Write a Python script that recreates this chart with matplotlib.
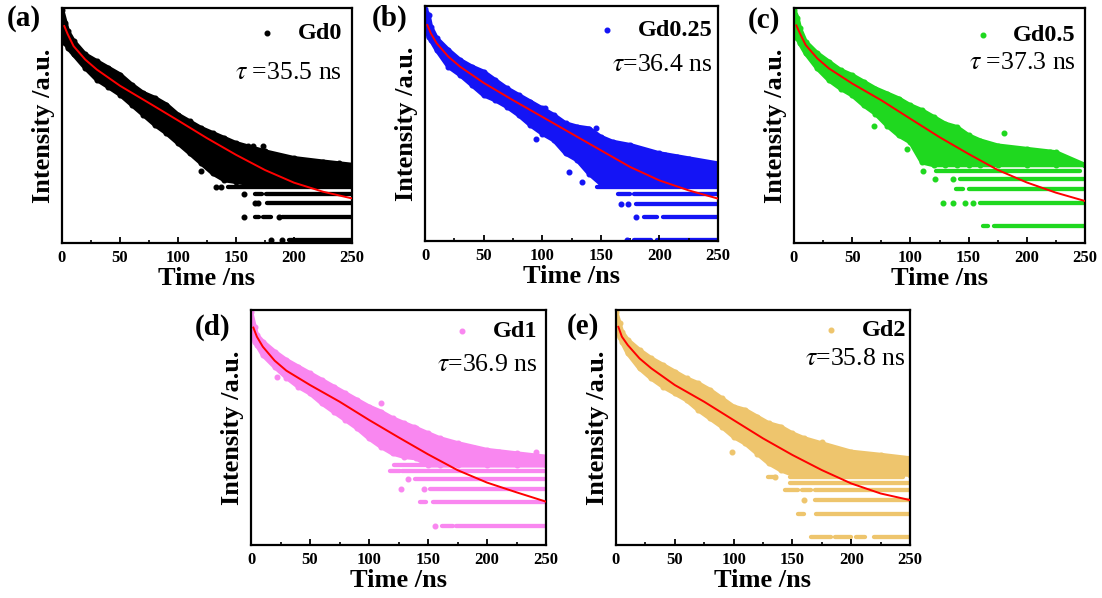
import matplotlib
matplotlib.use("Agg")
import matplotlib.pyplot as plt
from matplotlib.ticker import MultipleLocator, NullLocator

plt.rcParams["font.family"] = "Liberation Serif"
plt.rcParams["mathtext.fontset"] = "stix"

band_time = [0, 3, 5, 10, 20, 30, 40, 50, 60, 70, 80, 90, 100, 110, 120, 130,
             140, 150, 160, 175, 200, 225, 250]
fit_time = [2, 5, 10, 20, 30, 50, 75, 100, 125, 150, 175, 200, 225, 250]

# ---- Gd0 (counts) ----
gd0_upper = [1100, 736, 571, 421, 280, 228, 186, 152, 112, 86.7, 74.5, 60.7, 44.7,
             36.5, 29.7, 25.5, 21.9, 18.8, 17.0, 14.6, 11.9, 10.7, 9.7]
gd0_lower = [816, 400, 343, 280, 186, 130, 104, 82.4, 60.7, 44.7, 32.9, 25.5, 18.8,
             13.9, 10.2, 7.5, 6.1, 5.8, 5.5, 5.5, 5.5, 5.5, 5.5]
gd0_fit = [665, 516, 361, 240, 177, 108, 63.9, 37.6, 21.9, 13.2, 8.3, 5.65, 4.29, 3.50]
# tail: runs of points sitting on one photon-count level (level, from, to)
gd0_rows = [(5, 143, 250), (4, 166, 172), (4, 176, 250), (3, 177, 250),
            (2, 166, 170), (2, 173, 180), (2, 190, 250), (1, 196, 250)]
gd0_dots_t = [133, 137, 157, 157, 166, 169, 187, 180, 190, 164.6, 173, 239, 120]
gd0_dots_y = [5, 5, 4, 2, 3, 3, 2, 1, 1, 17.5, 17.5, 10.2, 8.1]

# ---- Gd0.25 ----
gd025_upper = [1150, 950, 665, 466, 326, 240, 196, 168, 130, 101, 82.4, 67.2, 54.8,
               44.7, 34.7, 31.3, 29.7, 23.0, 19.8, 17.9, 13.9, 11.9, 10.2]
gd025_lower = [816, 490, 443, 326, 196, 152, 112, 82.4, 70.7, 57.7, 44.7, 32.9, 25.5,
               20.8, 13.9, 11.3, 7.5, 5.5, 5.5, 5.5, 5.5, 5.5, 5.5]
gd025_fit = [700, 543, 400, 266, 196, 120, 70.7, 42.5, 25.5, 15.3, 9.2, 6.1, 4.5, 3.5]
gd025_rows = [(5, 147, 250), (4, 165, 175), (4, 178, 250), (3, 180, 250),
              (2, 187, 198), (2, 203, 250), (1, 178, 193), (1, 198, 250)]
gd025_dots_t = [167, 173, 180, 172, 102.6, 146, 123, 134, 95, 205, 215, 236, 243]
gd025_dots_y = [3, 3, 2, 1, 54.8, 30.4, 7.9, 5.8, 21.5, 13.2, 12.5, 10.2, 9.2]

# ---- Gd0.5 ----
gd05_upper = [571, 446, 332, 223, 159, 124, 97.1, 83.5, 68.8, 56.5, 48.8, 42.1, 34.5,
              29.8, 24.5, 20.1, 18.2, 14.3, 12.3, 10.6, 9.6, 8.7, 6]
gd05_lower = [404, 247, 213, 159, 102, 72.3, 56.5, 46.4, 34.5, 27.0, 19.1, 14.3, 11.7,
              6.5, 6, 6, 6, 6, 6, 6, 6, 6, 6]
gd05_fit = [360, 287, 203, 137, 102, 65.5, 40.1, 23.3, 13.6, 8.3, 5.2, 3.6, 2.67, 2.09]
gd05_rows = [(5, 122, 246), (4, 143, 250), (3, 139, 145), (3, 150, 250),
             (2, 160, 250), (1, 162, 167), (1, 172, 250)]
gd05_dots_t = [121, 137, 128, 137, 147, 154, 68.5, 97, 180, 209, 220, 233, 111]
gd05_dots_y = [4, 4, 2, 2, 2, 2, 19.1, 9.6, 15.3, 8.7, 8.7, 6.8, 5]

# ---- Gd1 ----
gd1_upper = [560, 359, 281, 231, 172, 134, 110, 90.6, 74.5, 61.1, 50.2, 41.2, 33.9,
             29.2, 24.0, 20.7, 17.9, 15.4, 13.3, 11.5, 9.4, 8.5, 7.7]
gd1_lower = [359, 231, 209, 156, 110, 80, 61.1, 50.2, 37.4, 29.2, 22.9, 17.9, 13.3,
             10.4, 8.5, 7.7, 7.4, 6, 6, 6, 6, 6, 6]
gd1_fit = [350, 267, 199, 132, 98, 64.2, 39.3, 22.9, 13.7, 8.3, 5.2, 3.6, 2.7, 2.05]
gd1_rows = [(6, 121, 250), (5, 118, 126), (5, 128, 250), (4, 139, 250), (3, 152, 250),
            (2, 143, 148), (2, 154, 250), (1, 162, 171), (1, 174, 250)]
gd1_dots_t = [133, 127, 147, 156, 110, 138, 22, 241.5, 189, 210]
gd1_dots_y = [4, 3, 3, 1, 37.4, 18.8, 82, 9.0, 9.9, 9]

# ---- Gd2 ----
gd2_upper = [782, 554, 433, 339, 252, 197, 162, 133, 109, 94.2, 77.4, 60.6, 47.4,
             42.9, 35.2, 28.9, 26.2, 21.5, 18.6, 16.0, 12.5, 11.4, 10.3]
gd2_lower = [554, 374, 323, 229, 147, 109, 85.4, 70.2, 57.6, 42.9, 33.5, 26.2, 19.5,
             16.0, 11.9, 8.9, 7.3, 6.4, 6.4, 6.4, 6.4, 6.4, 6.4]
gd2_fit = [500, 374, 292, 197, 147, 89.8, 54.8, 31.9, 18.6, 11.4, 7.3, 4.92, 3.66, 3.01]
gd2_rows = [(6, 129, 136), (6, 148, 244), (5, 148, 250), (4, 144, 155), (4, 158, 166),
            (4, 169, 250), (3, 169, 250), (2, 155, 160), (2, 170, 250),
            (1, 166, 183), (1, 186, 200), (1, 204, 212), (1, 219, 250)]
gd2_dots_t = [160, 99, 175, 182, 214, 246, 135]
gd2_dots_y = [3, 12.5, 16.8, 14.5, 10.8, 7.9, 6]

fig = plt.figure(figsize=(11.02, 5.98), dpi=100)
W, H = 1102, 598


def add_axes(left, top, right, bottom):
    return fig.add_axes([left / W, 1 - bottom / H, (right - left) / W, (bottom - top) / H])


def draw_panel(ax, color, upper, lower, fit, rows, dots_t, dots_y, ylim,
               name, tau_text, leg_pos, tau_pos):
    ax.fill_between(band_time, lower, upper, color=color, lw=0, zorder=1)
    for edge in (upper, lower):
        ax.plot(band_time, edge, color=color, lw=3.2, solid_joinstyle="round",
                solid_capstyle="round", zorder=1)
    pts = ax.scatter(band_time + band_time, upper + lower, s=11, color=color,
                     label=name, zorder=2)
    for level, t0, t1 in rows:
        ax.plot([t0, t1], [level, level], color=color, lw=3.1,
                solid_capstyle="round", zorder=1)
    ax.scatter(dots_t, dots_y, s=11, color=color, zorder=2)
    ax.plot(fit_time, fit, color="red", lw=1.4, zorder=3, solid_joinstyle="round")

    ax.set_yscale("log")
    ax.set_xlim(0, 250)
    ax.set_ylim(*ylim)
    ax.set_yticks([])
    ax.yaxis.set_minor_locator(NullLocator())
    ax.set_xticks(range(0, 251, 50))
    ax.xaxis.set_minor_locator(MultipleLocator(25))
    ax.tick_params(axis="x", which="major", direction="in", length=4, width=1.3,
                   labelsize=12, pad=5)
    ax.tick_params(axis="x", which="minor", direction="in", length=2.5, width=1.2)
    for lab in ax.get_xticklabels():
        lab.set_fontweight("bold")
    for sp in ax.spines.values():
        sp.set_linewidth(1.6)

    ax.set_xlabel("Time /ns", fontsize=19, fontweight="bold", labelpad=1)
    ax.set_ylabel("Intensity /a.u.", fontsize=19, fontweight="bold", labelpad=5)

    ax.legend(handles=[pts], loc="center right", bbox_to_anchor=leg_pos, frameon=False,
              borderaxespad=0, borderpad=0, handlelength=1.0, handletextpad=0.75,
              scatterpoints=1, prop={"weight": "bold", "size": 17.5})
    ax.text(tau_pos[0], tau_pos[1], tau_text, transform=ax.transAxes, ha="right",
            va="center", fontsize=18.5)


ax_a = add_axes(62, 8, 352, 243)
draw_panel(ax_a, "black", gd0_upper, gd0_lower, gd0_fit, gd0_rows, gd0_dots_t,
           gd0_dots_y, (0.90, 1153), "Gd0", r"$\tau$ =35.5 ns", (0.966, 0.894), (0.966, 0.723))

ax_b = add_axes(425, 6, 718, 241)
draw_panel(ax_b, "#1414f5", gd025_upper, gd025_lower, gd025_fit, gd025_rows,
           gd025_dots_t, gd025_dots_y, (0.96, 1251), "Gd0.25", r"$\tau$=36.4 ns",
           (0.98, 0.898), (0.98, 0.749))

ax_c = add_axes(794, 8, 1085, 243)
draw_panel(ax_c, "#1fd81f", gd05_upper, gd05_lower, gd05_fit, gd05_rows,
           gd05_dots_t, gd05_dots_y, (0.61, 600), "Gd0.5", r"$\tau$ =37.3 ns",
           (0.969, 0.885), (0.969, 0.766))

ax_d = add_axes(251, 310, 546, 545)
draw_panel(ax_d, "#f987f0", gd1_upper, gd1_lower, gd1_fit, gd1_rows,
           gd1_dots_t, gd1_dots_y, (0.57, 588), "Gd1", r"$\tau$=36.9 ns",
           (0.9695, 0.911), (0.9695, 0.766))

ax_e = add_axes(616, 310, 910, 545)
draw_panel(ax_e, "#eec56d", gd2_upper, gd2_lower, gd2_fit, gd2_rows,
           gd2_dots_t, gd2_dots_y, (0.80, 822), "Gd2", r"$\tau$=35.8 ns",
           (0.986, 0.915), (0.986, 0.791))

for lab, x, y in [("(a)", 7, 19), ("(b)", 372, 18), ("(c)", 748, 21),
                  ("(d)", 195, 327), ("(e)", 567, 327)]:
    fig.text(x / W, 1 - y / H, lab, fontsize=21, fontweight="bold", ha="left", va="center")

fig.savefig("out.png", dpi=100)
